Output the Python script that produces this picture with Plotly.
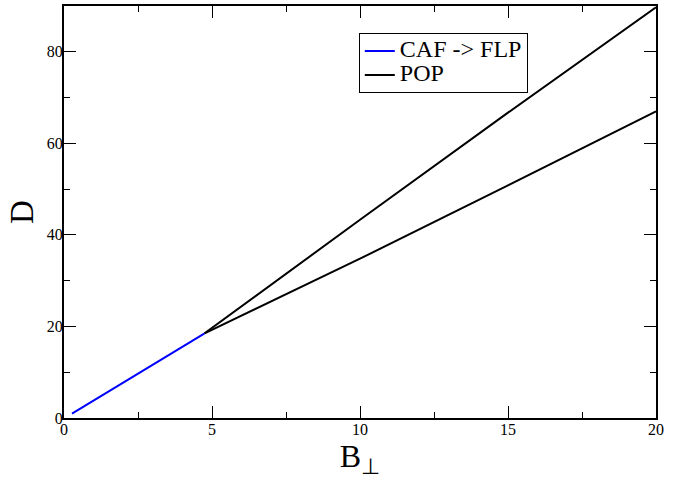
import plotly.graph_objects as go

# CAF -> FLP transition line
caf_x = [0.27, 4.75]
caf_y = [0.95, 18.5]

# POP lines (upper and lower branch)
pop_up_x = [4.75, 10.0, 15.0, 20.0]
pop_up_y = [18.5, 43.3, 66.7, 89.7]
pop_lo_x = [4.75, 10.0, 15.0, 20.0]
pop_lo_y = [18.5, 34.8, 50.8, 67.0]

font = 'Liberation Serif'

def big(s):
  # legend text bigger than its row spacing, like the reference
  return f'<span style="font-size:24px">{s}</span>'

fig = go.Figure()
fig.add_trace(go.Scatter(x=caf_x, y=caf_y, mode='lines', name=big('CAF -&gt; FLP'),
                         line=dict(color='#0000ff', width=2)))
fig.add_trace(go.Scatter(x=pop_up_x, y=pop_up_y, mode='lines', name=big('POP'),
                         line=dict(color='black', width=2)))
fig.add_trace(go.Scatter(x=pop_lo_x, y=pop_lo_y, mode='lines', name='POP',
                         showlegend=False, line=dict(color='black', width=2)))

axis_common = dict(
  showline=True, linecolor='black', linewidth=2, mirror='ticks',
  ticks='inside', ticklen=12, tickwidth=1, tickcolor='black',
  showgrid=False, zeroline=False,
  tickfont=dict(family=font, size=16, color='black'),
)
fig.update_xaxes(range=[0, 20], dtick=5, ticklabelstandoff=-4,
                 title=dict(text='B<sub>⊥</sub>', font=dict(family=font, size=32, color='black'), standoff=2),
                 minor=dict(dtick=2.5, ticks='inside', ticklen=6, tickcolor='black'), **axis_common)
fig.update_yaxes(range=[0, 90], dtick=20, ticklabelstandoff=-4,
                 title=dict(text='D', font=dict(family=font, size=33, color='black'), standoff=3),
                 minor=dict(dtick=10, ticks='inside', ticklen=6, tickcolor='black'), **axis_common)

fig.update_layout(
  width=688, height=485,
  margin=dict(l=64, r=32, t=4, b=67),
  plot_bgcolor='white', paper_bgcolor='white',
  font=dict(family=font, color='black'),
  legend=dict(x=0.498, y=0.934, xanchor='left', yanchor='top',
              bordercolor='black', borderwidth=1, bgcolor='white',
              font=dict(family=font, size=16, color='black'),
              tracegroupgap=0, itemwidth=30),
)

fig.write_html('out.html', config={'displayModeBar': False},
               post_script="document.body.style.margin='0';")
